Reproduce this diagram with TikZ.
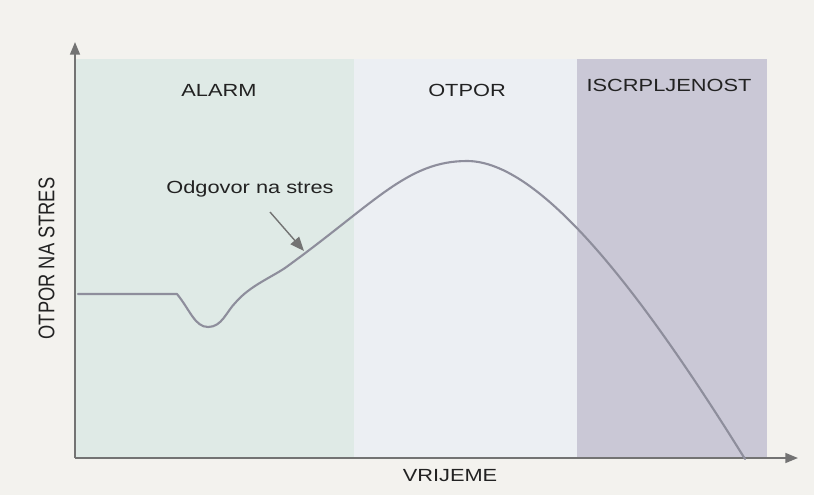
\documentclass[tikz,border=0pt]{standalone}
\usepackage{fontspec}
\setmainfont{Liberation Sans}
\usetikzlibrary{arrows.meta}
\definecolor{bgc}{HTML}{F3F2EE}
\definecolor{alarmc}{HTML}{DFEAE6}
\definecolor{otporc}{HTML}{ECEFF3}
\definecolor{iscrc}{HTML}{CAC8D6}
\definecolor{axisc}{HTML}{737373}
\definecolor{curvec}{HTML}{8E8E9C}
\definecolor{txtc}{HTML}{222222}
\tikzset{
  lbl/.style={font=\fontsize{12.5}{14}\selectfont, text=txtc, inner sep=0pt, xscale=1.24},
  axisline/.style={draw=axisc, line width=1.4pt, -{Triangle[length=9pt,width=7pt]}},
  curveline/.style={draw=curvec, line width=1.5pt, line join=round, line cap=round},
}
\begin{document}
\begin{tikzpicture}[x=0.025cm, y=-0.025cm]
\useasboundingbox (0,0) rectangle (814,495);
\fill[bgc] (0,0) rectangle (814,495);
% panels
\fill[alarmc] (76,59) rectangle (354,458);
\fill[otporc] (354,59) rectangle (577,458);
\fill[iscrc] (577,59) rectangle (767,458);
% labels
\node[lbl] (alarm) at (219,90) {ALARM};
\node[lbl] (otpor) at (467,90.5) {OTPOR};
\node[lbl] (iscr) at (669,85.5) {ISCRPLJENOST};
\node[lbl] (xl) at (450,475.5) {VRIJEME};
\node[font=\fontsize{13}{15}\selectfont, text=txtc, inner sep=0pt, xscale=1.24, rotate=90] (yl) at (46.5,258.5) {OTPOR NA STRES};
% axes
\coordinate (o) at (75,458);
\coordinate (ytip) at (75,42);
\coordinate (xtip) at (798,458);
\draw[axisline] (o) -- (ytip);
\draw[axisline] (o) -- (xtip);
% curve
\draw[curveline] (78,294) -- (177,294)
  .. controls (190,310) and (195,327) .. (208,327)
  .. controls (222,327) and (226,312) .. (236,302)
  .. controls (250,286) and (270,278) .. (285,268)
  .. controls (375,203) and (407,161) .. (467,161)
  .. controls (540,161) and (640,290) .. (745,459);
% annotation
\node[lbl, anchor=base] (resp) at (250,193) {Odgovor na stres};
\coordinate (tip) at (304,251);
\draw[draw=axisc, line width=1pt, -{Triangle[length=10pt,width=8pt]}] (270,212) -- (tip);
\end{tikzpicture}
\end{document}
